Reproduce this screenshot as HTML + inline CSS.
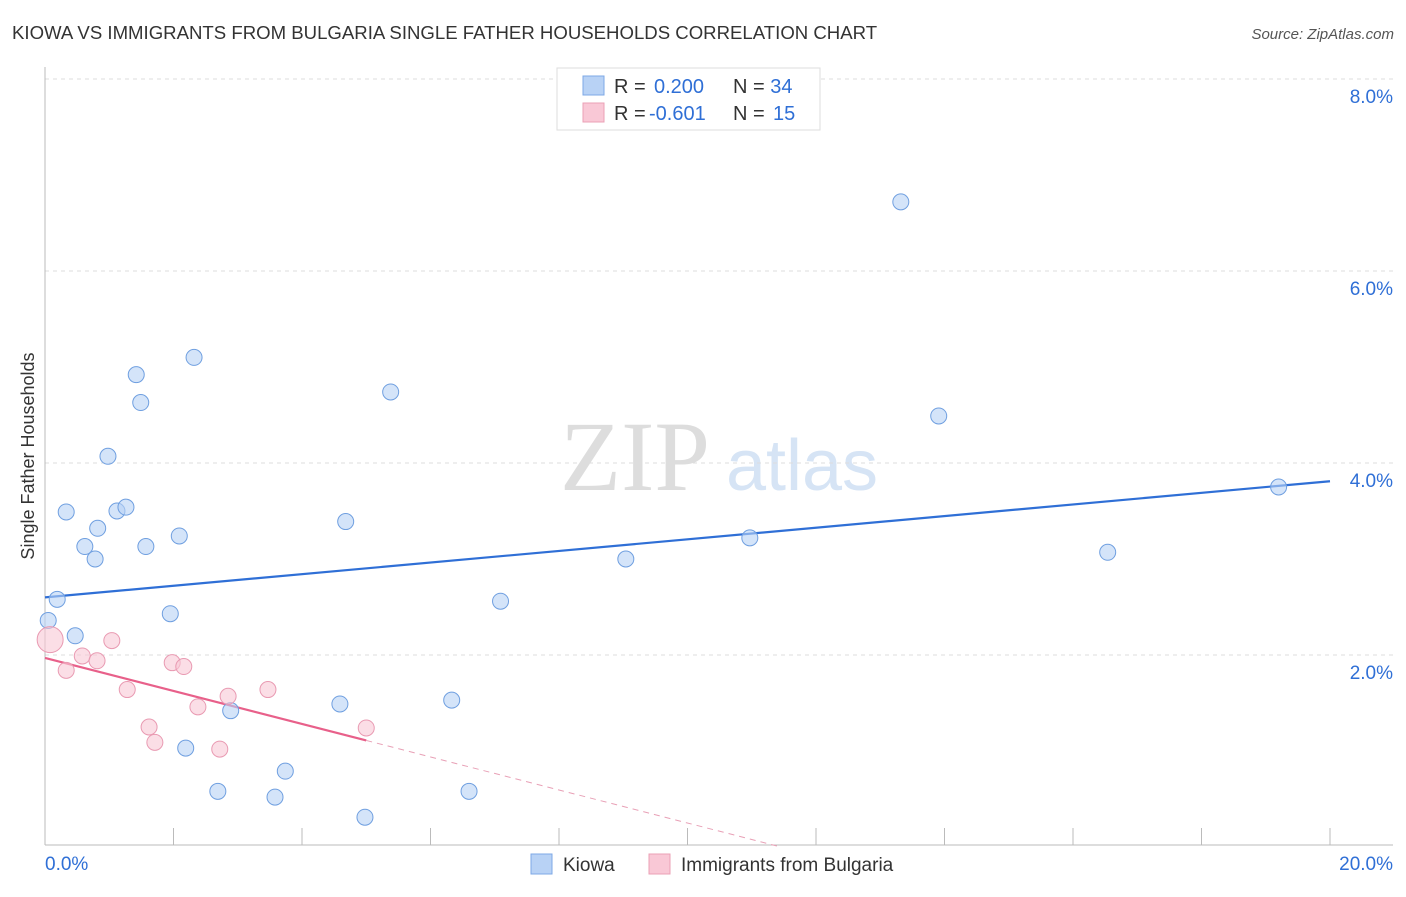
<!DOCTYPE html>
<html><head><meta charset="utf-8"><style>
body{margin:0;background:#fff;font-family:"Liberation Sans",sans-serif;}
svg text{font-family:"Liberation Sans",sans-serif;}
svg text.serif{font-family:"Liberation Serif",serif;}
</style></head><body>
<svg id="chart" width="1406" height="892" xmlns="http://www.w3.org/2000/svg">
<text x="12" y="39" font-size="18.6" fill="#333">KIOWA VS IMMIGRANTS FROM BULGARIA SINGLE FATHER HOUSEHOLDS CORRELATION CHART</text>
<text x="1394" y="39" font-size="15" fill="#555" font-style="italic" text-anchor="end">Source: ZipAtlas.com</text>
<g><text class="serif" x="635" y="490" font-size="100" fill="#ddd" text-anchor="middle">ZIP</text><text x="802" y="490" font-size="72" fill="#d6e4f5" text-anchor="middle">atlas</text></g>
<text transform="translate(34,456) rotate(-90)" font-size="18" fill="#333" text-anchor="middle">Single Father Households</text>
<g id="grid"></g><g id="axes"></g><g id="trend"></g><g id="pts"></g>
<g>
<rect x="557" y="68" width="263" height="62" fill="#fff" stroke="#ddd"/>
<rect x="583" y="76" width="21" height="19" fill="#b8d2f5" stroke="#7ea8e6"/>
<rect x="583" y="103" width="21" height="19" fill="#f9c8d6" stroke="#eba0b6"/>
<text x="614" y="93" font-size="20" fill="#333">R = <tspan fill="#2f6fd6" x="654">0.200</tspan><tspan x="733" fill="#333">N = </tspan><tspan fill="#2f6fd6">34</tspan></text>
<text x="614" y="120" font-size="20" fill="#333">R = <tspan fill="#2f6fd6" x="649">-0.601</tspan><tspan x="733" fill="#333">N = </tspan><tspan fill="#2f6fd6" x="773">15</tspan></text>
</g>
<g>
<rect x="531" y="854" width="21" height="20" fill="#b8d2f5" stroke="#7ea8e6"/>
<text x="563" y="871" font-size="19" fill="#333">Kiowa</text>
<rect x="649" y="854" width="21" height="20" fill="#f9c8d6" stroke="#eba0b6"/>
<text x="681" y="871" font-size="19" fill="#333">Immigrants from Bulgaria</text>
</g>
</svg>
<script>
const xTicks=[0,20];
const yTicks=[2,4,6,8];
const kiowaX=[0.05,0.19,0.33,0.47,0.62,0.78,0.82,0.98,1.12,1.26,1.42,1.49,1.57,1.95,2.09,2.19,2.32,2.69,2.89,3.58,3.74,4.59,4.68,4.98,5.38,6.33,6.60,7.09,9.04,10.97,13.32,13.91,16.54,19.20];
const kiowaY=[2.36,2.58,3.49,2.20,3.13,3.00,3.32,4.07,3.50,3.54,4.92,4.63,3.13,2.43,3.24,1.03,5.10,0.58,1.42,0.52,0.79,1.49,3.39,0.31,4.74,1.53,0.58,2.56,3.00,3.22,6.72,4.49,3.07,3.75];
const bulgX=[0.08,0.33,0.58,0.81,1.04,1.28,1.62,1.71,1.98,2.16,2.38,2.72,2.85,3.47,5.00];
const bulgY=[2.16,1.84,1.99,1.94,2.15,1.64,1.25,1.09,1.92,1.88,1.46,1.02,1.57,1.64,1.24];
const kiowaTrend=[2.60,3.81];
const bulgTrend=[1.97,-0.172];
const NS="http://www.w3.org/2000/svg";
const sx=v=>45+v*1285/20, sy=v=>847-v*96;
function mk(p,t,a){const e=document.createElementNS(NS,t);for(const k in a)e.setAttribute(k,a[k]);document.getElementById(p).appendChild(e);return e;}
yTicks.forEach(v=>{
 const l=mk('grid','line',{x1:45,x2:1393,y1:sy(v),y2:sy(v),stroke:'#ddd','stroke-dasharray':'4,4'});
 
 
 const t=mk('grid','text',{x:1393,y:sy(v)+24,'font-size':19,fill:'#2f6fd6','text-anchor':'end'});t.textContent=v.toFixed(1)+'%';
 
 
});
const ax=mk('axes','line',{x1:45,x2:45,y1:67,y2:845,stroke:'#bbb'});


const bx=mk('axes','line',{x1:45,x2:1393,y1:845,y2:845,stroke:'#bbb'});


for(let i=0;i<=10;i++){const tk=mk('axes','line',{x1:sx(i*2),x2:sx(i*2),y1:828,y2:845,stroke:'#bbb'});
 
 }
xTicks.forEach((v,i)=>{const t=mk('axes','text',{x:i?1393:45,y:870,'font-size':19,fill:'#2f6fd6','text-anchor':i?'end':'start'});t.textContent=v.toFixed(1)+'%';
 
 });
const kt=mk('trend','line',{x1:sx(0),y1:sy(kiowaTrend[0]),x2:sx(20),y2:sy(kiowaTrend[1]),stroke:'#2f6fd6','stroke-width':2.2});


const xe=5, x0=-bulgTrend[0]/bulgTrend[1];
const bt=mk('trend','line',{x1:sx(0),y1:sy(bulgTrend[0]),x2:sx(xe),y2:sy(bulgTrend[0]+bulgTrend[1]*xe),stroke:'#e8608a','stroke-width':2.2});


const bd=mk('trend','line',{x1:sx(xe),y1:sy(bulgTrend[0]+bulgTrend[1]*xe),x2:sx(x0),y2:sy(0),stroke:'#e8a0b6','stroke-width':1,'stroke-dasharray':'6,5'});


kiowaX.forEach((x,i)=>{const c=mk('pts','circle',{cx:sx(x),cy:sy(kiowaY[i]),r:8,fill:'rgba(184,210,245,0.6)',stroke:'#6f9fe0','stroke-width':1});
 
 });
bulgX.forEach((x,i)=>{const c=mk('pts','circle',{cx:sx(x),cy:sy(bulgY[i]),r:i==0?13:8,fill:'rgba(249,200,214,0.6)',stroke:'#e99ab2','stroke-width':1});
 
 });
</script>
</body></html>
